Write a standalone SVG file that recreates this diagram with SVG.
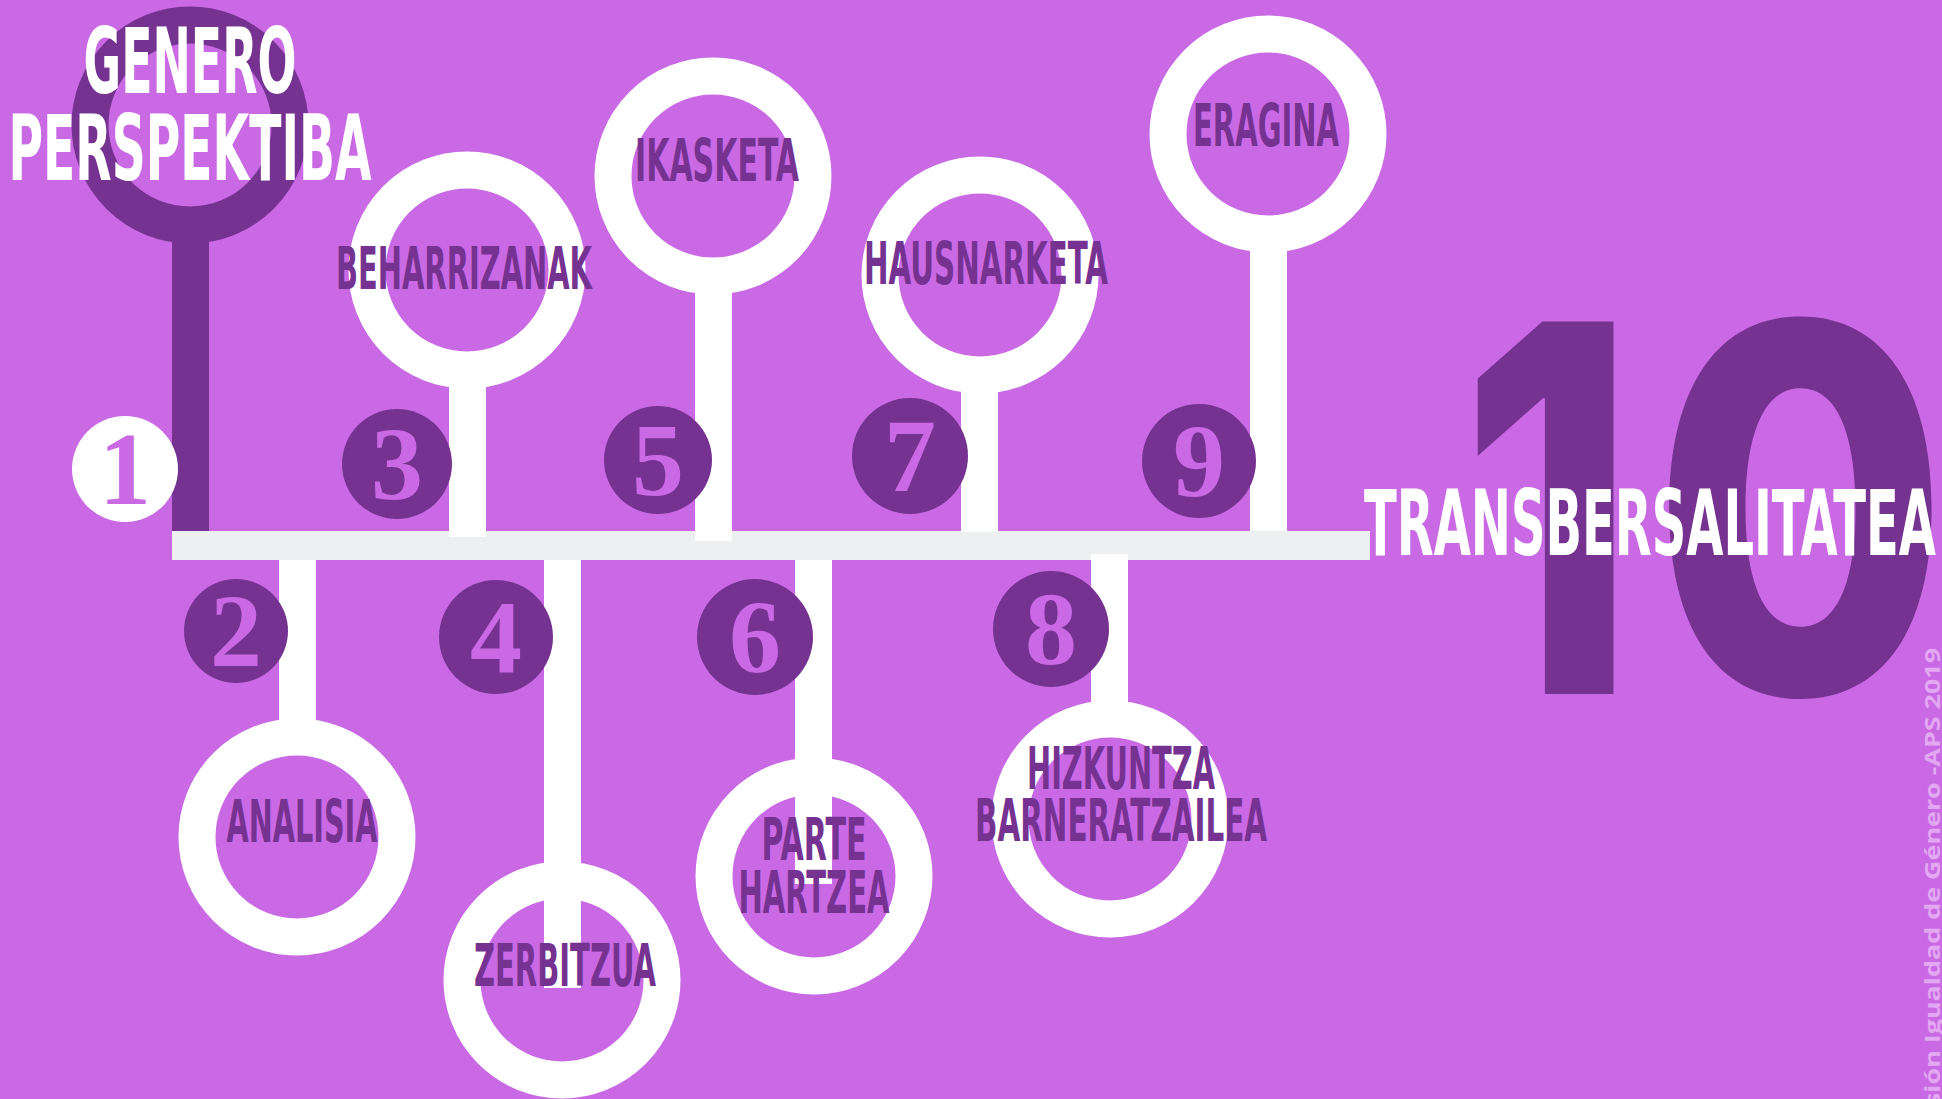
<svg xmlns="http://www.w3.org/2000/svg" width="1942" height="1099" viewBox="0 0 1942 1099">
<style>
.bg{fill:#c96ae4}
.ring{fill:none;stroke:#ffffff;stroke-width:37}
.ringd{fill:none;stroke:#753291;stroke-width:37}
.stem{fill:#ffffff}
.stemd{fill:#753291}
.bar{fill:#eeeff1}
.num{fill:#753291}
.numw{fill:#ffffff}
.digit{font-family:"Liberation Serif","DejaVu Serif",serif;font-weight:bold;font-size:104px;fill:#c96ae4;text-anchor:middle}
.lab{font-family:"DejaVu Sans Condensed","DejaVu Sans","Liberation Sans",sans-serif;font-weight:bold;font-stretch:condensed;font-size:58px;fill:#753291;text-anchor:middle}
.labw{font-family:"DejaVu Sans Condensed","DejaVu Sans","Liberation Sans",sans-serif;font-weight:bold;font-stretch:condensed;font-size:90px;fill:#ffffff;text-anchor:middle}
.big{font-family:Inter,"Liberation Sans",sans-serif;font-weight:800;font-size:512px;fill:#753291}
.copy{font-family:"Open Sans","Liberation Sans",sans-serif;font-weight:bold;font-size:21px;fill:#e2a8f1}
</style>
<rect class="bg" x="0" y="0" width="1942" height="1099"/>

<g id="ten">
<text class="big" x="1460" y="694" textLength="176" lengthAdjust="spacingAndGlyphs">1</text>
<text class="big" x="1652" y="694" textLength="297" lengthAdjust="spacingAndGlyphs">0</text>
</g>

<g id="connectors">
<rect class="bar" x="172" y="531" width="1198" height="29"/>
<rect class="stemd" x="172" y="215" width="37" height="316"/>
<rect class="stem" x="449" y="365" width="37" height="172"/>
<rect class="stem" x="695" y="271" width="37" height="270"/>
<rect class="stem" x="961" y="370" width="37" height="162"/>
<rect class="stem" x="1250" y="229" width="37" height="302"/>
<rect class="stem" x="279" y="560" width="37" height="185"/>
<rect class="stem" x="544" y="560" width="37" height="428"/>
<rect class="stem" x="795" y="560" width="37" height="324"/>
<rect class="stem" x="1091" y="554" width="37" height="173"/>
</g>

<g id="node1">
<circle class="ringd" cx="190" cy="125" r="100"/>
<circle class="numw" cx="125" cy="469" r="53"/>
<text class="digit" x="125" y="504">1</text>
<text class="labw" x="190" y="93" textLength="213" lengthAdjust="spacingAndGlyphs">GENERO</text>
<text class="labw" x="190" y="180" textLength="363" lengthAdjust="spacingAndGlyphs">PERSPEKTIBA</text>
</g>

<g id="node2">
<circle class="ring" cx="297" cy="837" r="100"/>
<circle class="num" cx="236" cy="631" r="52"/>
<text class="digit" x="236" y="666">2</text>
<text class="lab" x="302" y="842" textLength="151" lengthAdjust="spacingAndGlyphs">ANALISIA</text>
</g>

<g id="node3">
<circle class="ring" cx="467" cy="270" r="100"/>
<circle class="num" cx="397" cy="464" r="55"/>
<text class="digit" x="397" y="499">3</text>
<text class="lab" x="464" y="289" textLength="256" lengthAdjust="spacingAndGlyphs">BEHARRIZANAK</text>
</g>

<g id="node4">
<circle class="ring" cx="562" cy="980" r="100"/>
<circle class="num" cx="496" cy="637" r="57"/>
<text class="digit" x="496" y="672">4</text>
<text class="lab" x="565" y="986" textLength="182" lengthAdjust="spacingAndGlyphs">ZERBITZUA</text>
</g>

<g id="node5">
<circle class="ring" cx="713" cy="176" r="100"/>
<circle class="num" cx="658" cy="460" r="54"/>
<text class="digit" x="658" y="495">5</text>
<text class="lab" x="717" y="181" textLength="164" lengthAdjust="spacingAndGlyphs">IKASKETA</text>
</g>

<g id="node6">
<circle class="ring" cx="814" cy="876" r="100"/>
<circle class="num" cx="755" cy="637" r="58"/>
<text class="digit" x="755" y="672">6</text>
<text class="lab" x="814" y="860" textLength="105" lengthAdjust="spacingAndGlyphs">PARTE</text>
<text class="lab" x="814" y="913" textLength="151" lengthAdjust="spacingAndGlyphs">HARTZEA</text>
</g>

<g id="node7">
<circle class="ring" cx="980" cy="275" r="100"/>
<circle class="num" cx="910" cy="456" r="58"/>
<text class="digit" x="910" y="491">7</text>
<text class="lab" x="986" y="284" textLength="244" lengthAdjust="spacingAndGlyphs">HAUSNARKETA</text>
</g>

<g id="node8">
<circle class="ring" cx="1110" cy="819" r="100"/>
<circle class="num" cx="1051" cy="629" r="58"/>
<text class="digit" x="1051" y="664">8</text>
<text class="lab" x="1121" y="789" textLength="188" lengthAdjust="spacingAndGlyphs">HIZKUNTZA</text>
<text class="lab" x="1121" y="841" textLength="292" lengthAdjust="spacingAndGlyphs">BARNERATZAILEA</text>
</g>

<g id="node9">
<circle class="ring" cx="1268" cy="134" r="100"/>
<circle class="num" cx="1199" cy="461" r="57"/>
<text class="digit" x="1199" y="496">9</text>
<text class="lab" x="1266" y="146" textLength="146" lengthAdjust="spacingAndGlyphs">ERAGINA</text>
</g>

<g id="node10">
<text class="labw" x="1650" y="555" textLength="572" lengthAdjust="spacingAndGlyphs">TRANSBERSALITATEA</text>
</g>

<g id="credit">
<text class="copy" transform="translate(1940,1106) rotate(-90)" x="0" y="0" textLength="458" lengthAdjust="spacingAndGlyphs">sión Igualdad de Género -APS  2019</text>
</g>
</svg>
